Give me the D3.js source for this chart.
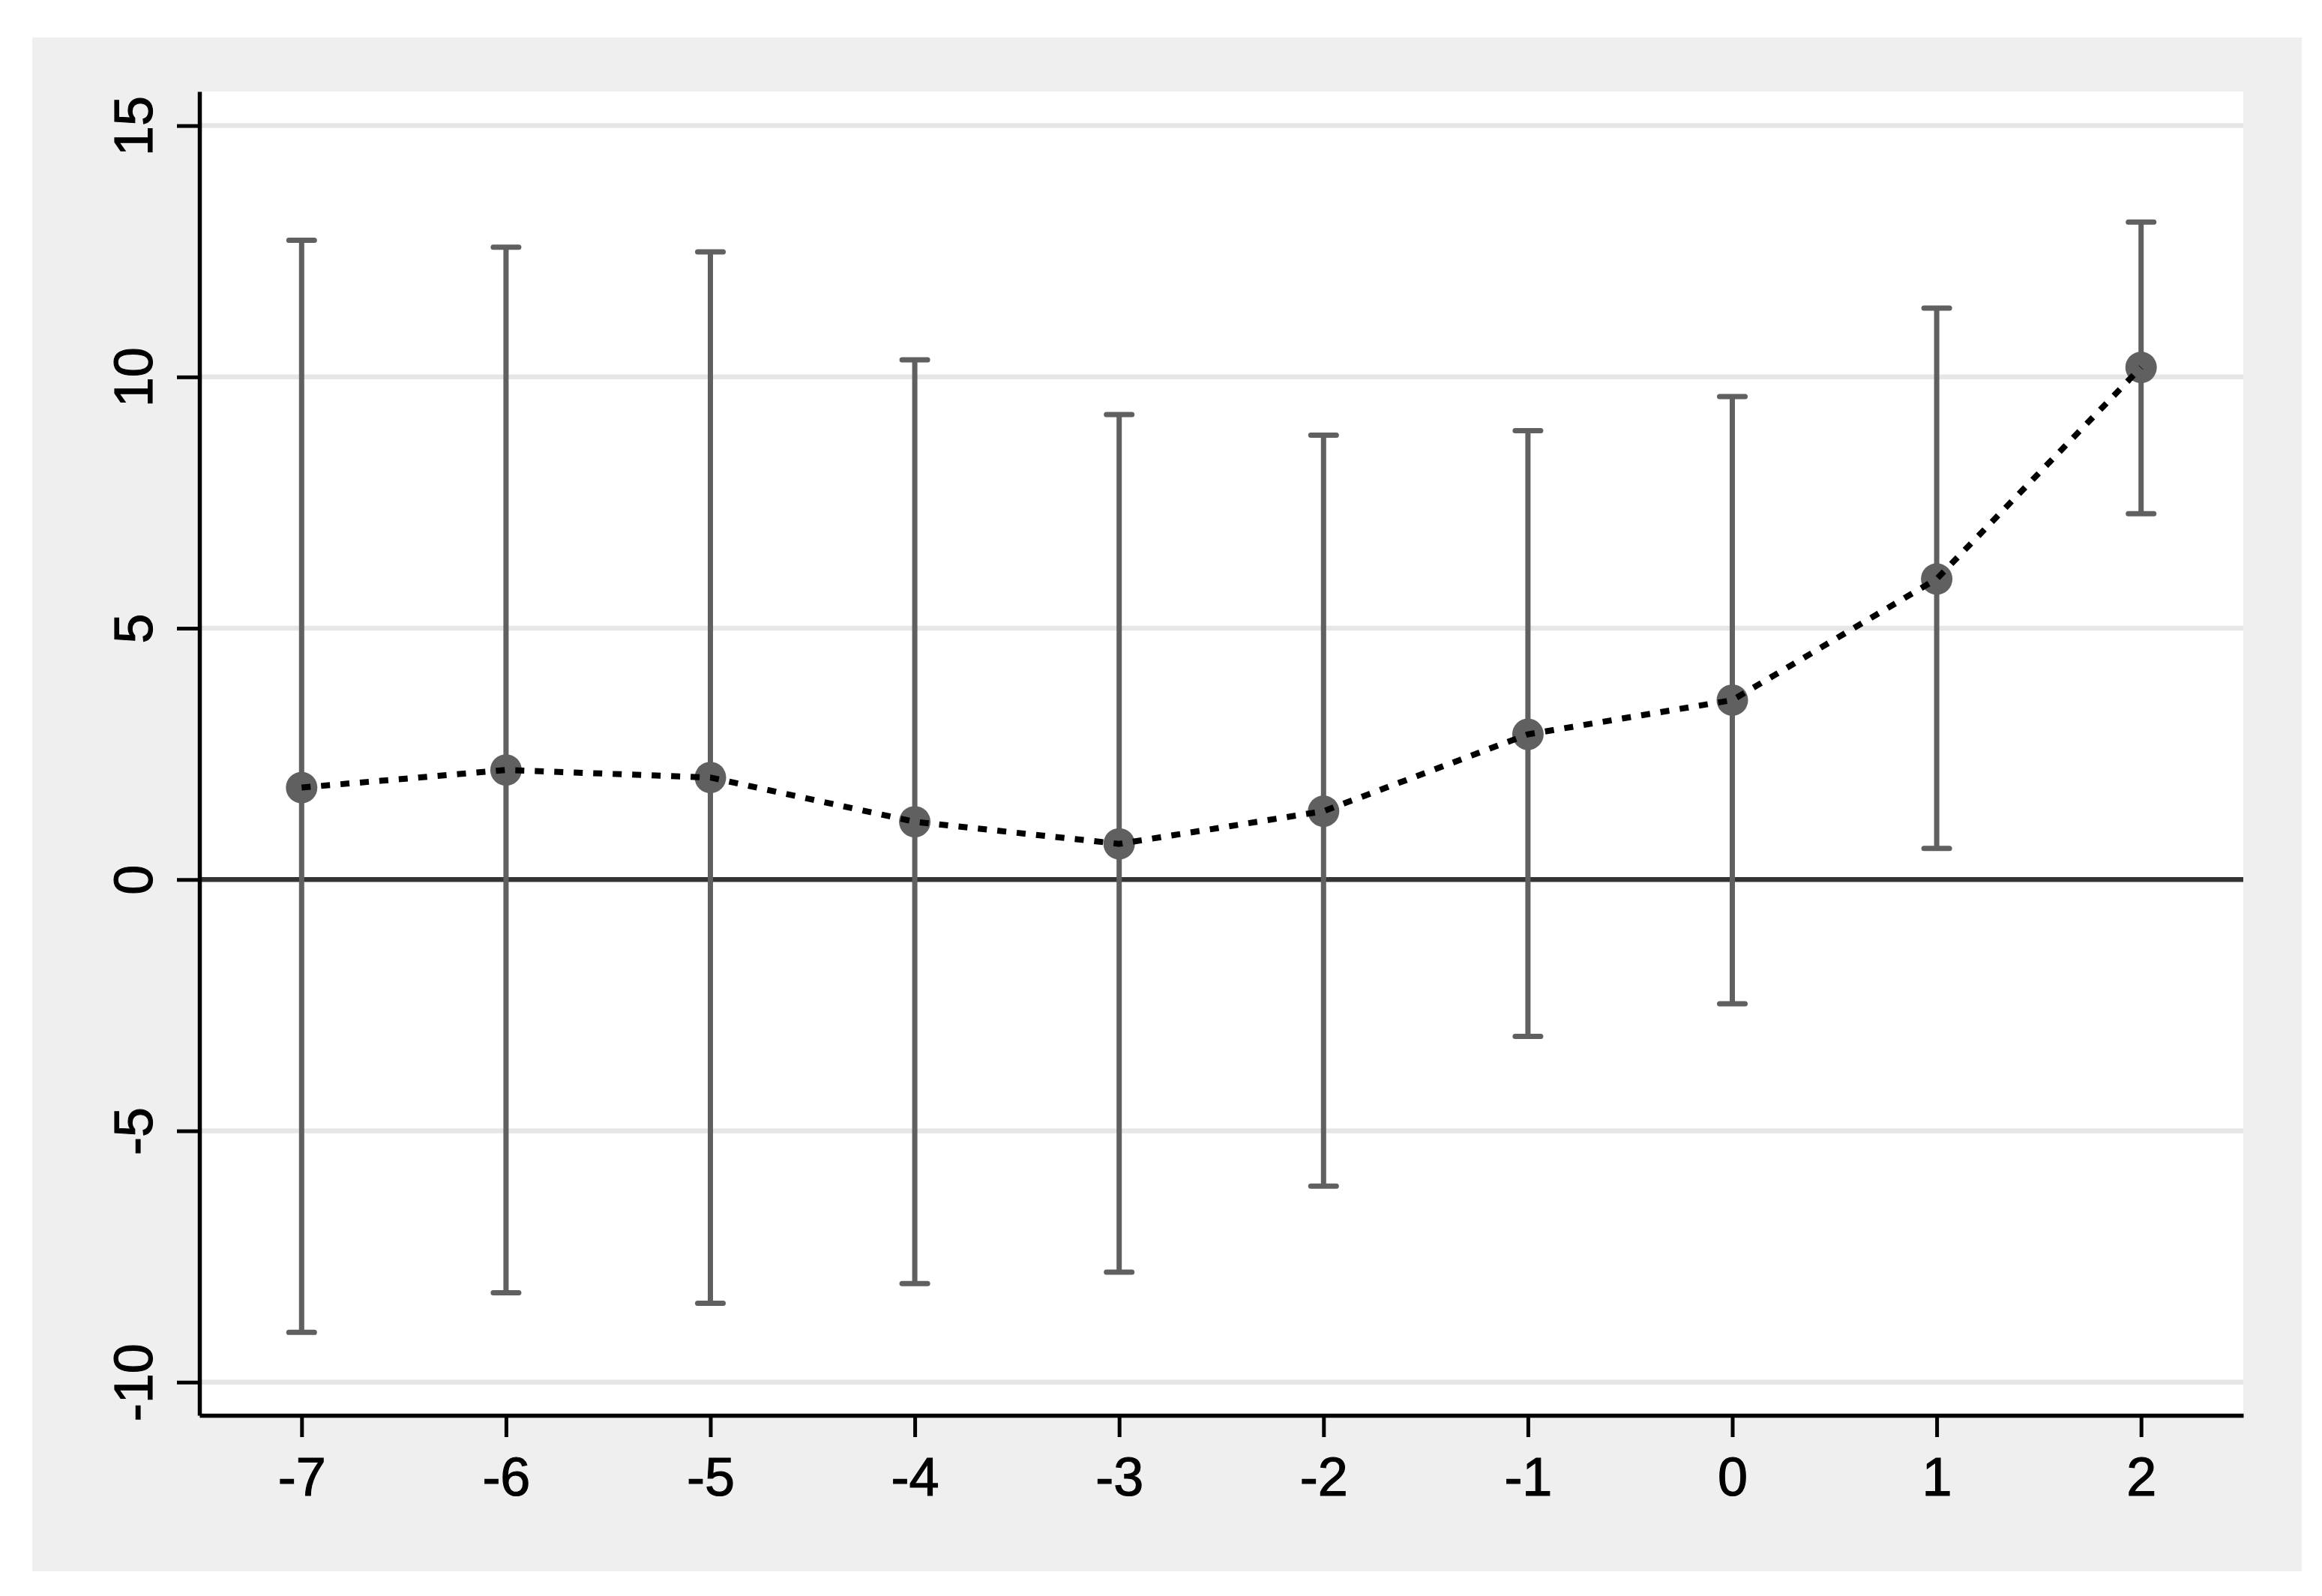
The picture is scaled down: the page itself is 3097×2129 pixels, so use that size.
<!DOCTYPE html>
<html>
<head>
<meta charset="utf-8">
<script src="https://cdn.jsdelivr.net/npm/d3@7"></script>
<style>
  body { margin: 0; background: #ffffff; }
  text { font-family: "Liberation Sans", Arial, sans-serif; }
</style>
</head>
<body>
<div id="chart"></div>
<script>
// event time (x) and estimates with 95% CI
var periods = [-7, -6, -5, -4, -3, -2, -1, 0, 1, 2];
var estimates = [1.83, 2.18, 2.03, 1.15, 0.71, 1.36, 2.89, 3.57, 5.98, 10.19];
var upper = [12.72, 12.58, 12.49, 10.34, 9.25, 8.84, 8.93, 9.61, 11.37, 13.08];
var lower = [-9.01, -8.22, -8.43, -8.04, -7.81, -6.10, -3.12, -2.47, 0.62, 7.28];

var yTicks = [-10, -5, 0, 5, 10, 15];
var xTicks = [-7, -6, -5, -4, -3, -2, -1, 0, 1, 2];

var W = 3097, H = 2129;
// plot region
var plotLeft = 266, plotRight = 2992, plotTop = 122, plotBottom = 1888;

var data = periods.map(function (p, i) {
  return { x: p, est: estimates[i], hi: upper[i], lo: lower[i] };
});

var svg = d3.select("#chart").append("svg")
  .attr("width", W)
  .attr("height", H);

// outer grey frame
svg.append("rect")
  .attr("x", 43).attr("y", 50)
  .attr("width", 3070 - 43).attr("height", 2096 - 50)
  .attr("fill", "#efefef");

// white plot region
svg.append("rect")
  .attr("x", plotLeft).attr("y", plotTop)
  .attr("width", plotRight - plotLeft).attr("height", plotBottom - plotTop)
  .attr("fill", "#ffffff");

var x = d3.scaleLinear()
  .domain([-7.5, 2.5])
  .range([plotLeft, plotRight]);

var y = d3.scaleLinear()
  .domain([-10.66, 15.68])
  .range([plotBottom, plotTop]);

var fmt = function (d) { return d < 0 ? "-" + Math.abs(d) : String(d); };

// grid lines
svg.append("g")
  .selectAll("line")
  .data(yTicks.filter(function (d) { return d != 0; }))
  .enter()
  .append("line")
  .attr("x1", plotLeft).attr("x2", plotRight)
  .attr("y1", function (d) { return y(d); })
  .attr("y2", function (d) { return y(d); })
  .attr("stroke", "#e6e6e6")
  .attr("stroke-width", 6.5);

// zero line
svg.append("line")
  .attr("x1", plotLeft).attr("x2", plotRight)
  .attr("y1", y(0)).attr("y2", y(0))
  .attr("stroke", "#333333")
  .attr("stroke-width", 6.5);

// Y axis
var yAxis = svg.append("g")
  .attr("transform", "translate(" + plotLeft + ",0)")
  .call(d3.axisLeft(y).tickValues(yTicks).tickSize(30).tickSizeOuter(0).tickFormat(fmt));
yAxis.attr("font-size", 72).attr("font-family", "'Liberation Sans', Arial, sans-serif");
yAxis.select(".domain").attr("stroke", "#000").attr("stroke-width", 5.5);
yAxis.selectAll(".tick line").attr("stroke", "#000").attr("stroke-width", 5);
yAxis.selectAll(".tick text")
  .attr("transform", "rotate(-90)")
  .attr("x", 0)
  .attr("y", -63)
  .attr("dy", 0)
  .attr("text-anchor", "middle")
  .attr("fill", "#000")
  .attr("stroke", "#000")
  .attr("stroke-width", 1.2);

// X axis
var xAxis = svg.append("g")
  .attr("transform", "translate(0," + plotBottom + ")")
  .call(d3.axisBottom(x).tickValues(xTicks).tickSize(29).tickSizeOuter(0).tickFormat(fmt));
xAxis.attr("font-size", 72).attr("font-family", "'Liberation Sans', Arial, sans-serif");
xAxis.select(".domain").attr("stroke", "#000").attr("stroke-width", 5.5);
xAxis.selectAll(".tick line").attr("stroke", "#000").attr("stroke-width", 5);
xAxis.selectAll(".tick text")
  .attr("y", 107)
  .attr("dy", 0)
  .attr("fill", "#000")
  .attr("stroke", "#000")
  .attr("stroke-width", 1.2);

// error bars
var bars = svg.append("g")
  .attr("stroke", "#606060")
  .attr("stroke-width", 7)
  .attr("stroke-linecap", "round");

bars.selectAll(".bar")
  .data(data)
  .enter()
  .append("line")
  .attr("x1", function (d) { return x(d.x); })
  .attr("x2", function (d) { return x(d.x); })
  .attr("y1", function (d) { return y(d.hi); })
  .attr("y2", function (d) { return y(d.lo); })
  .attr("stroke-linecap", "butt");

bars.selectAll(".capHi")
  .data(data)
  .enter()
  .append("line")
  .attr("x1", function (d) { return x(d.x) - 17; })
  .attr("x2", function (d) { return x(d.x) + 17; })
  .attr("y1", function (d) { return y(d.hi); })
  .attr("y2", function (d) { return y(d.hi); });

bars.selectAll(".capLo")
  .data(data)
  .enter()
  .append("line")
  .attr("x1", function (d) { return x(d.x) - 17; })
  .attr("x2", function (d) { return x(d.x) + 17; })
  .attr("y1", function (d) { return y(d.lo); })
  .attr("y2", function (d) { return y(d.lo); });

// points
svg.append("g")
  .selectAll("circle")
  .data(data)
  .enter()
  .append("circle")
  .attr("cx", function (d) { return x(d.x); })
  .attr("cy", function (d) { return y(d.est); })
  .attr("r", 21)
  .attr("fill", "#606060");

// dotted connecting line
svg.append("path")
  .datum(data)
  .attr("fill", "none")
  .attr("stroke", "#000")
  .attr("stroke-width", 8)
  .attr("stroke-dasharray", "12 14")
  .attr("d", d3.line()
    .x(function (d) { return x(d.x); })
    .y(function (d) { return y(d.est); }));
</script>
</body>
</html>
